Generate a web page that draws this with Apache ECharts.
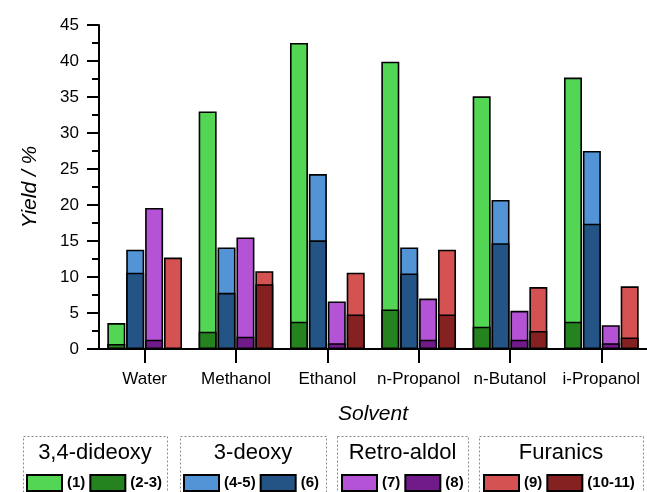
<!DOCTYPE html>
<html><head><meta charset="utf-8">
<script src="https://cdn.jsdelivr.net/npm/echarts@6/dist/echarts.min.js"></script>
<style>html,body{margin:0;padding:0;background:#fff}#c{width:647px;height:492px}</style>
</head><body><div id="c"></div>
<script>
const solvents = ['Water','Methanol','Ethanol','n-Propanol','n-Butanol','i-Propanol'];
// totals (light bar tops) and dark bottom parts
const dideoxyTotal = [3.6, 33.0, 42.5, 39.9, 35.1, 37.7];   // (1)+(2-3)
const dideoxyDark  = [0.7, 2.4, 3.8, 5.5, 3.1, 3.8];        // (2-3)
const deoxyTotal   = [13.8, 14.1, 24.3, 14.1, 20.7, 27.5];  // (4-5)+(6)
const deoxyDark    = [10.6, 7.8, 15.1, 10.5, 14.7, 17.4];   // (6)
const retroTotal   = [19.6, 15.5, 6.6, 7.0, 5.3, 3.3];      // (7)+(8)
const retroDark    = [1.3, 1.7, 0.8, 1.3, 1.3, 0.8];        // (8)
const furanTotal   = [12.7, 10.8, 10.6, 13.8, 8.6, 8.7];    // (9)+(10-11)
const furanDark    = [0, 9.0, 4.8, 4.8, 2.5, 1.6];          // (10-11)
const yTicks = [0,5,10,15,20,25,30,35,40,45];

const FONT = 'Liberation Sans, Arial, sans-serif';
const colors = {
  '(1)':'#53d653','(2-3)':'#24821f',
  '(4-5)':'#5394d6','(6)':'#235485',
  '(7)':'#b553d6','(8)':'#711a8a',
  '(9)':'#d55252','(10-11)':'#852121'
};
function bar(name, data, axis){
  return {name, type:'bar', data, xAxisIndex:axis, yAxisIndex:0,
    barWidth:18, barGap:'5%', z: axis===1?3:2,
    itemStyle:{color:colors[name], borderColor:'#000', borderWidth:1.6},
    emphasis:{disabled:true}, animation:false};
}
const catAxis = (show)=>({type:'category', data:solvents, show,
  axisLine:{show, lineStyle:{color:'#000', width:2}},
  axisTick:{show, alignWithLabel:true, length:14, lineStyle:{color:'#000', width:2}},
  axisLabel:{show, interval:0, color:'#000', fontSize:17, fontFamily:FONT, margin:22},
  name: show?'Solvent':'', nameLocation:'middle', nameGap:55,
  nameTextStyle:{fontSize:21, fontStyle:'italic', color:'#000', fontFamily:FONT}
});
function legend(names, left){
  return {data:names, left, top:474, padding:0, itemWidth:35, itemHeight:16, itemGap:4,
    icon:'rect', selectedMode:false,
    textStyle:{fontSize:15, fontWeight:'bold', color:'#000', fontFamily:FONT, padding:[0,0,0,0]}};
}
const boxes = [[23,167,'3,4-dideoxy'],[180,326,'3-deoxy'],[337,468,'Retro-aldol'],[479,643,'Furanics']];
const graphic = [];
boxes.forEach(b=>{
  graphic.push({type:'rect', shape:{x:b[0]+0.5,y:436.5,width:b[1]-b[0],height:70},
    style:{fill:'none', stroke:'#8a8a8a', lineWidth:1, lineDash:[2,2]}});
  graphic.push({type:'text', x:(b[0]+b[1])/2, y:453,
    style:{text:b[2], fontSize:22, fontFamily:FONT, fill:'#000', textAlign:'center', textVerticalAlign:'middle'}});
});
const option = {
  animation:false,
  grid:{left:99, right:0, top:25, bottom:143, containLabel:false},
  xAxis:[catAxis(true), catAxis(false)],
  yAxis:{type:'value', min:0, max:45, interval:5,
    axisLine:{show:true, lineStyle:{color:'#000', width:2}},
    axisTick:{show:true, length:12, lineStyle:{color:'#000', width:2}},
    minorTick:{show:true, splitNumber:2, length:7, lineStyle:{color:'#000', width:2}},
    splitLine:{show:false},
    axisLabel:{color:'#000', fontSize:17, fontFamily:FONT, margin:20,
      formatter:v=>yTicks.includes(v)?String(v):''},
    name:'Yield / %', nameLocation:'middle', nameGap:58,
    nameTextStyle:{fontSize:21, fontStyle:'italic', color:'#000', fontFamily:FONT}},
  legend:[legend(['(1)','(2-3)'],26), legend(['(4-5)','(6)'],183), legend(['(7)','(8)'],341), legend(['(9)','(10-11)'],483)],
  graphic,
  series:[
    bar('(1)', dideoxyTotal, 0), bar('(4-5)', deoxyTotal, 0), bar('(7)', retroTotal, 0), bar('(9)', furanTotal, 0),
    bar('(2-3)', dideoxyDark, 1), bar('(6)', deoxyDark, 1), bar('(8)', retroDark, 1), bar('(10-11)', furanDark, 1)
  ]
};
echarts.init(document.getElementById('c'), null, {renderer:'canvas'}).setOption(option);
</script></body></html>
